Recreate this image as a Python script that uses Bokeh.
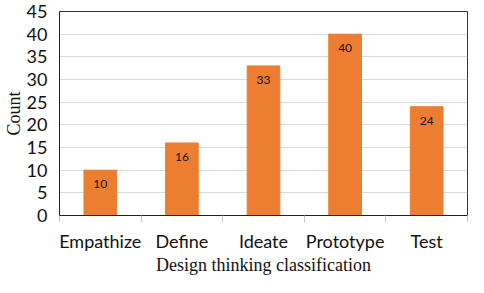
from bokeh.plotting import figure
from bokeh.models import ColumnDataSource, LabelSet, FixedTicker, Range1d
from bokeh.core.properties import value
from bokeh.embed import file_html
from bokeh.resources import INLINE

categories = ["Empathize", "Define", "Ideate", "Prototype", "Test"]
counts = [10, 16, 33, 40, 24]
y_ticks = [0, 5, 10, 15, 20, 25, 30, 35, 40, 45]

xpos = [i + 0.5 for i in range(len(categories))]
src = ColumnDataSource(dict(x=xpos, y=counts, lab=[str(c) for c in counts]))

p = figure(width=468, height=277, output_backend="svg", toolbar_location=None,
           x_range=Range1d(0, len(categories)), y_range=Range1d(0, 45),
           min_border_top=11, min_border_right=1, min_border_left=0, min_border_bottom=0)

p.vbar(x="x", top="y", width=0.4, bottom=0, source=src,
       fill_color="#ED7D31", line_color="#ED7D31")

labels = LabelSet(x="x", y="y", text="lab", source=src, y_offset=-14,
                  text_align="center", text_baseline="middle",
                  text_font=value("Lato"), text_font_size="12px", text_color="#111111")
p.add_layout(labels)

p.background_fill_color = "white"
p.border_fill_color = "white"
p.outline_line_color = "#333333"
p.outline_line_width = 1

p.xgrid.grid_line_color = None
p.ygrid.grid_line_color = "#D9D9D9"
p.ygrid.grid_line_width = 1

# y axis
p.yaxis.ticker = FixedTicker(ticks=y_ticks)
p.yaxis.major_tick_line_color = None
p.yaxis.minor_tick_line_color = None
p.yaxis.major_tick_out = 0
p.yaxis.major_tick_in = 0
p.yaxis.major_label_standoff = 12
p.yaxis.major_label_text_font = "Lato"
p.yaxis.major_label_text_font_size = "18px"
p.yaxis.major_label_text_color = "#111111"
p.yaxis.axis_line_color = "#222222"
p.yaxis.axis_label = "Count"
p.yaxis.axis_label_text_font = "Liberation Serif"
p.yaxis.axis_label_text_font_style = "normal"
p.yaxis.axis_label_text_font_size = "18px"
p.yaxis.axis_label_text_color = "#111111"
p.yaxis.axis_label_standoff = 0

# x axis
p.xaxis.ticker = FixedTicker(ticks=xpos, minor_ticks=[float(i) for i in range(len(categories) + 1)])
p.xaxis.major_label_overrides = {x: c for x, c in zip(xpos, categories)}
p.xaxis.major_tick_line_color = None
p.xaxis.major_tick_out = 0
p.xaxis.major_tick_in = 0
p.xaxis.minor_tick_line_color = "#C8C8C8"
p.xaxis.minor_tick_out = 7
p.xaxis.minor_tick_in = 0
p.xaxis.major_label_standoff = 7
p.xaxis.major_label_text_font = "Lato"
p.xaxis.major_label_text_font_size = "18px"
p.xaxis.major_label_text_color = "#111111"
p.xaxis.axis_line_color = "#222222"
p.xaxis.axis_label = "Design thinking classification"
p.xaxis.axis_label_text_font = "Liberation Serif"
p.xaxis.axis_label_text_font_style = "normal"
p.xaxis.axis_label_text_font_size = "18px"
p.xaxis.axis_label_text_color = "#111111"
p.xaxis.axis_label_standoff = 0

open("out.html", "w").write(file_html(p, INLINE))
